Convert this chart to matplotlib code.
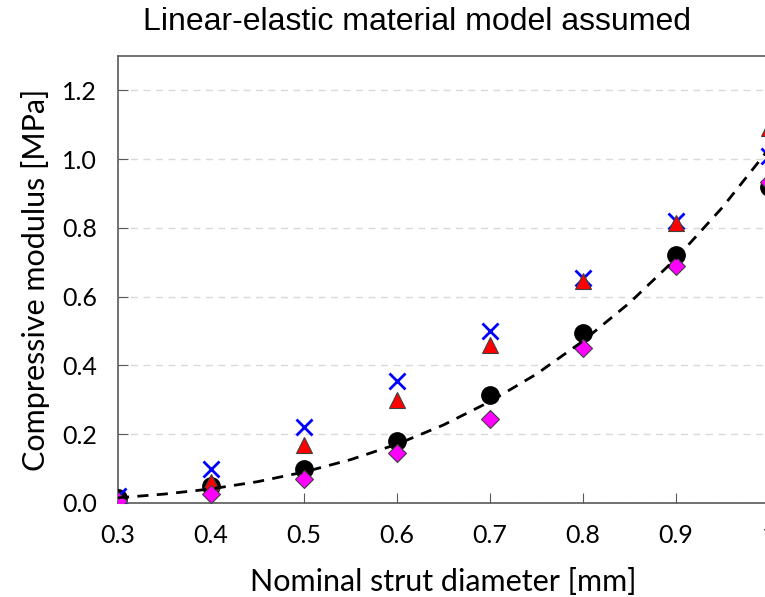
import numpy as np
import matplotlib
matplotlib.use("Agg")
import matplotlib.pyplot as plt

# Strut diameter [mm]
diameter = [0.3, 0.4, 0.5, 0.6, 0.7, 0.8, 0.9, 1.0]

# Compressive modulus [MPa]
mod_circle = [0.015, 0.05, 0.10, 0.18, 0.315, 0.495, 0.72, 0.92]
mod_triangle = [0.01, 0.06, 0.17, 0.30, 0.46, 0.645, 0.815, 1.09]
mod_cross = [0.02, 0.10, 0.22, 0.355, 0.50, 0.655, 0.82, 1.01]
mod_diamond = [0.005, 0.025, 0.07, 0.145, 0.245, 0.45, 0.69, 0.935]

# dashed trend line, read at 0.05 mm steps
trend_x = [0.30, 0.35, 0.40, 0.45, 0.50, 0.55, 0.60, 0.65, 0.70, 0.75, 0.80, 0.85, 0.90, 0.95, 1.00]
trend_y = [0.015, 0.026, 0.041, 0.062, 0.090, 0.126, 0.171, 0.227, 0.295, 0.375, 0.471, 0.582, 0.711, 0.860, 1.03]

xticks = [0.3, 0.4, 0.5, 0.6, 0.7, 0.8, 0.9, 1.0]
xtick_labels = ["0.3", "0.4", "0.5", "0.6", "0.7", "0.8", "0.9", "1"]
yticks = [0.0, 0.2, 0.4, 0.6, 0.8, 1.0, 1.2]

fig = plt.figure(figsize=(7.65, 5.97), dpi=100)
ax = fig.add_axes([118 / 765, 94 / 597, 651 / 765, 447 / 597])

ax.plot(diameter, mod_circle, 'o', color='black', markersize=12.5, zorder=3)
ax.plot(diameter, mod_cross, 'x', color='#0000ff', markersize=12, markeredgewidth=2, zorder=3)
ax.plot(diameter, mod_triangle, '^', markerfacecolor='#ff0000', markeredgecolor='#404040',
        markeredgewidth=0.8, markersize=12, zorder=3)
ax.plot(diameter, mod_diamond, 'D', markerfacecolor='#ff00ff', markeredgecolor='#404040',
        markeredgewidth=0.8, markersize=9, zorder=3)
ax.plot(trend_x, trend_y, '--', color='black', linewidth=2, dashes=(4, 3), zorder=4)

ax.set_xlim(0.3, 1.0)
ax.set_ylim(0, 1.3)
ax.set_xticks(xticks)
ax.set_xticklabels(xtick_labels)
ax.set_yticks(yticks)
ax.set_yticklabels([f"{v:.1f}" for v in yticks])

ax.grid(axis='y', color='#d9d9d9', linestyle=(0, (5, 4)), linewidth=1)
ax.set_axisbelow(True)

for s in ax.spines.values():
    s.set_color('#595959')
    s.set_linewidth(1.2)

ax.tick_params(direction='in', length=7, color='#595959', labelsize=18, pad=15)
for lab in ax.get_xticklabels() + ax.get_yticklabels():
    lab.set_family('Lato')

ax.set_xlabel('Nominal strut diameter [mm]', family='Lato', fontsize=22, labelpad=15)
ax.set_ylabel('Compressive modulus [MPa]', family='Lato', fontsize=22, labelpad=9)
fig.text(417 / 765, 1 - 22 / 597, 'Linear-elastic material model assumed',
         family='Liberation Sans', fontsize=23, ha='center', va='center')

fig.savefig('out.png', dpi=100)
